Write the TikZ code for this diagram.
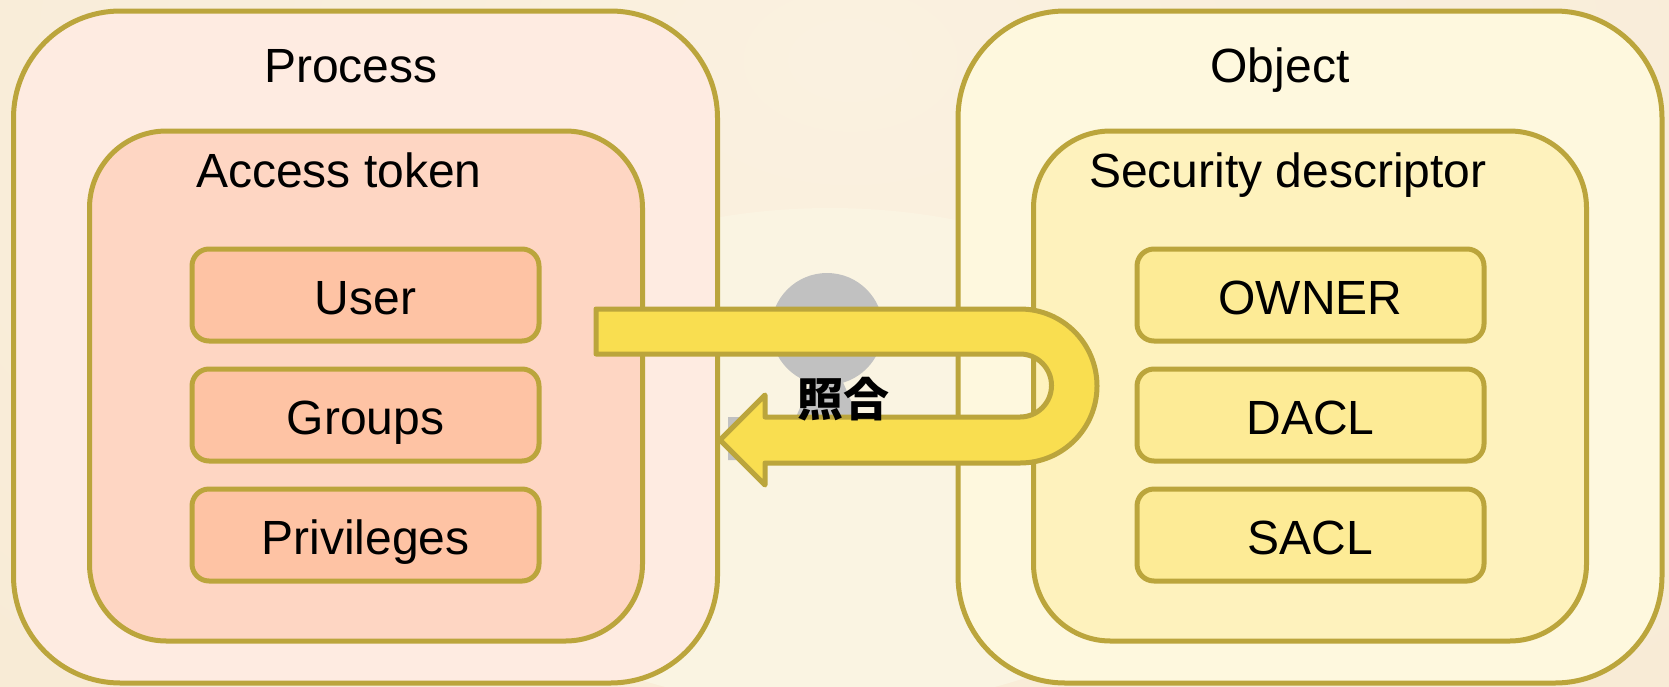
\documentclass[tikz,border=0pt]{standalone}
\usepackage{fontspec}
\setmainfont{Liberation Sans}
\newfontfamily\cjk{Noto Sans CJK JP}
\definecolor{bg}{HTML}{F8EAD4}
\definecolor{bglight}{HTML}{FAF1E0}
\definecolor{bgcenter}{HTML}{FAF4E2}
\definecolor{bordc}{HTML}{BBA53C}
\definecolor{procfill}{HTML}{FEEBE1}
\definecolor{tokfill}{HTML}{FED6C3}
\definecolor{lsmall}{HTML}{FEC3A4}
\definecolor{objfill}{HTML}{FEF8DE}
\definecolor{secfill}{HTML}{FEF2BD}
\definecolor{rsmall}{HTML}{FDEB96}
\definecolor{arrowfill}{HTML}{F9DE50}
\definecolor{grayc}{HTML}{C1C1C1}
\tikzset{
  bigbox/.style={draw=bordc, line width=5pt, rounded corners=107pt, inner sep=0pt,
    minimum width=704pt, minimum height=672pt},
  midbox/.style={draw=bordc, line width=5pt, rounded corners=77pt, inner sep=0pt,
    minimum width=553pt, minimum height=510pt},
  smallbox/.style={draw=bordc, line width=5pt, rounded corners=17pt, inner sep=0pt,
    minimum width=347pt, minimum height=92pt},
  lbl/.style={anchor=base, inner sep=0pt, font=\fontsize{48pt}{58pt}\selectfont},
  arrowstyle/.style={draw=bordc, fill=arrowfill, line width=5pt, line join=round}
}
\begin{document}
\begin{tikzpicture}[x=1pt, y=-1pt]
\useasboundingbox (0,0) rectangle (1669,686);
% background
\fill[bg] (0,0) rectangle (1669,686);
\shade[inner color=bglight, outer color=bg] (850,60) ellipse [x radius=1500, y radius=1000];
\fill[bgcenter] (830,458) ellipse [x radius=410, y radius=250];
% gray figure behind the arrow
\fill[grayc] (827,329) circle [radius=56];
\fill[grayc] (812,380) -- (842,380) -- (858,417) -- (926,417) -- (926,460) -- (728,460) -- (728,417) -- (796,417) -- cycle;
% process side
\node[bigbox, fill=procfill] (process) at (365.5,347) {};
\node[lbl] (processlbl) at (351,82) {Process};
\node[midbox, fill=tokfill] (token) at (366,386) {};
\node[lbl] (tokenlbl) at (339,187) {Access token};
\node[smallbox, fill=lsmall] (user) at (365.5,295) {};
\node[lbl] at ([yshift=-19pt]user.center) {User};
\node[smallbox, fill=lsmall] (groups) at (365.5,415) {};
\node[lbl] at ([yshift=-19pt]groups.center) {Groups};
\node[smallbox, fill=lsmall] (priv) at (365.5,535) {};
\node[lbl] at ([yshift=-19pt]priv.center) {Privileges};
% object side
\node[bigbox, fill=objfill] (object) at (1310,347) {};
\node[lbl] (objectlbl) at (1280,82) {Object};
\node[midbox, fill=secfill] (secdesc) at (1310,386) {};
\node[lbl] (secdesclbl) at (1288,187) {Security descriptor};
\node[smallbox, fill=rsmall] (owner) at (1310.5,295) {};
\node[lbl] at ([yshift=-19pt]owner.center) {OWNER};
\node[smallbox, fill=rsmall] (dacl) at (1310.5,415) {};
\node[lbl] at ([yshift=-19pt]dacl.center) {DACL};
\node[smallbox, fill=rsmall] (sacl) at (1310.5,535) {};
\node[lbl] at ([yshift=-19pt]sacl.center) {SACL};
% U-turn arrow
\coordinate (astart) at (596,309);
\coordinate (atip) at (720,440);
\draw[arrowstyle] (astart) -- (1020,309) arc[start angle=-90, end angle=90, radius=77]
  -- (765,463) -- (765,485) -- (atip) -- (765,395) -- (765,417) -- (1020,417)
  arc[start angle=90, end angle=-90, radius=31.5] -- (596,354) -- cycle;
\node[inner sep=0pt, font=\cjk\bfseries\fontsize{46pt}{56pt}\selectfont] (match) at (843,399) {照合};
\end{tikzpicture}
\end{document}
